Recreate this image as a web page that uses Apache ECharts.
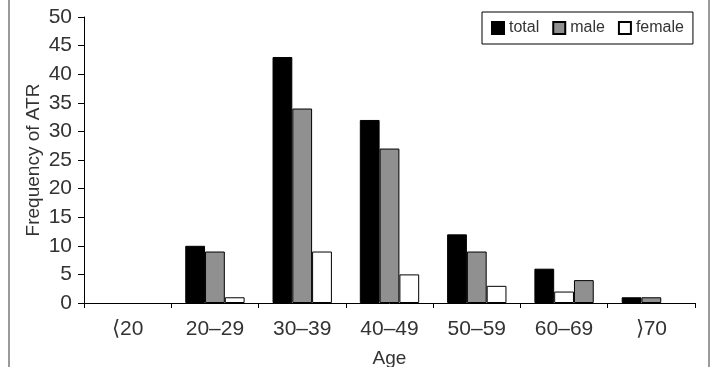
<!DOCTYPE html>
<html>
<head>
  <meta charset="utf-8">
  <style>
    html, body { margin: 0; padding: 0; width: 100%; height: 100%; overflow: hidden; background: #fff; }
  </style>
  <script src="https://cdn.jsdelivr.net/npm/echarts@6/dist/echarts.min.js"></script>
</head>
<body>
  <div id="container" style="width: 713px; height: 367px;"></div>
  <script>
    var categories = ['⟨20', '20–29', '30–39', '40–49', '50–59', '60–69', '⟩70'];
    var seriesNames = ['total', 'male', 'female'];
    // values in bar-slot order (1st, 2nd, 3rd bar of each group)
    var totalData = [0, 10, 43, 32, 12, 6, 1];
    var maleData = [0, 9, 34, 27, 9, 2, 1];
    var femaleData = [0, 1, 9, 5, 3, 4, 0];
    var yTicks = [0, 50, 5];
    // in the 60–69 group the original figure draws slot 2 white and slot 3 gray
    var swappedIndex = 5;

    var fontFamily = '"Liberation Sans", Arial, sans-serif';
    var colors = ['#000000', '#909090', '#ffffff'];

    var myChart = echarts.init(document.getElementById('container'), null, { renderer: 'canvas' });

    function makeData(arr, altColor) {
      return arr.map(function (v, i) {
        var item = { value: v };
        if (i === swappedIndex && altColor) {
          item.itemStyle = { color: altColor };
        }
        if (v === 0) {
          item.itemStyle = { borderWidth: 0 };
        }
        return item;
      });
    }

    var option = {
      backgroundColor: '#fff',
      animation: false,
      color: colors,
      textStyle: { fontFamily: fontFamily },
      graphic: [
        { type: 'line', shape: { x1: 9, y1: 0, x2: 9, y2: 367 }, style: { stroke: '#9a9a9a', lineWidth: 2 } },
        { type: 'line', shape: { x1: 709, y1: 0, x2: 709, y2: 367 }, style: { stroke: '#9a9a9a', lineWidth: 2 } }
      ],
      legend: {
        data: seriesNames,
        left: 482,
        top: 12,
        icon: 'rect',
        itemWidth: 12,
        itemHeight: 12,
        itemGap: 13,
        padding: [8, 9, 8, 9],
        borderColor: '#000',
        borderWidth: 1,
        textStyle: { fontSize: 16, color: '#333', fontFamily: fontFamily }
      },
      grid: { left: 84, right: 18, top: 17, bottom: 64, containLabel: false, outerBoundsMode: 'none' },
      xAxis: {
        type: 'category',
        data: categories,
        name: 'Age',
        nameLocation: 'middle',
        nameGap: 46,
        nameMoveOverlap: false,
        nameTextStyle: { fontSize: 19, color: '#333' },
        axisLine: { lineStyle: { color: '#000', width: 1 } },
        axisTick: { show: true, length: 5, lineStyle: { color: '#000' } },
        axisLabel: { fontSize: 21, color: '#333', margin: 16 }
      },
      yAxis: {
        type: 'value',
        min: yTicks[0],
        max: yTicks[1],
        interval: yTicks[2],
        name: 'Frequency of ATR',
        nameLocation: 'middle',
        nameGap: 41,
        nameMoveOverlap: false,
        nameTextStyle: { fontSize: 19, color: '#333' },
        axisLine: { show: true, lineStyle: { color: '#000', width: 1 } },
        axisTick: { show: true, length: 6, lineStyle: { color: '#000' } },
        axisLabel: { fontSize: 21, color: '#333', margin: 12 },
        splitLine: { show: false }
      },
      series: [
        {
          name: seriesNames[0], type: 'bar', data: makeData(totalData),
          barGap: '0%', barCategoryGap: '32%',
          itemStyle: { color: colors[0], borderColor: '#000', borderWidth: 1 }
        },
        {
          name: seriesNames[1], type: 'bar', data: makeData(maleData, colors[2]),
          itemStyle: { color: colors[1], borderColor: '#000', borderWidth: 1 }
        },
        {
          name: seriesNames[2], type: 'bar', data: makeData(femaleData, colors[1]),
          itemStyle: { color: colors[2], borderColor: '#000', borderWidth: 1 }
        }
      ]
    };

    myChart.setOption(option);
    window.addEventListener('resize', myChart.resize);
  </script>
</body>
</html>
